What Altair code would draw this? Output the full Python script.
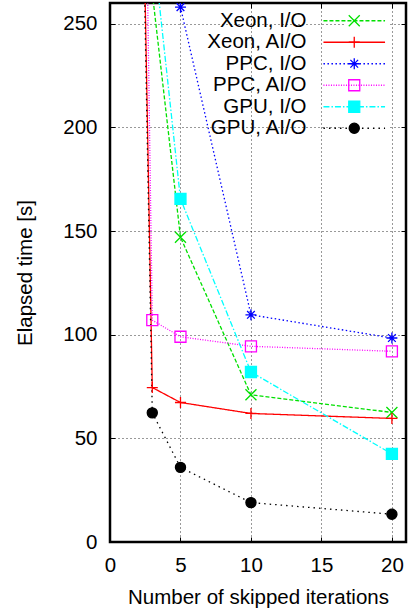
import altair as alt
import pandas as pd

series = ["Xeon, I/O", "Xeon, AI/O", "PPC, I/O", "PPC, AI/O", "GPU, I/O", "GPU, AI/O"]
skipped = [1, 3, 5, 10, 20]
xeon_io = [420, 265, 147, 71, 62.5]
xeon_aio = [815, 74.5, 67.3, 62, 59.6]
ppc_io = [900, 450, 258, 109.6, 98.4]
ppc_aio = [1050, 107, 99, 94.4, 92]
gpu_io = [600, 291, 165.5, 82, 42.5]
gpu_aio = [800, 62.3, 36, 19, 13.4]
values = [xeon_io, xeon_aio, ppc_io, ppc_aio, gpu_io, gpu_aio]

x_ticks = [0, 5, 10, 15, 20]
y_ticks = [0, 50, 100, 150, 200, 250]

colors = ["#00e000", "#ff0000", "#0000ff", "#ff00ff", "#00ffff", "#000000"]
dashes = [[4, 2], [1, 0], [1.5, 2.5], [1, 1.5], [6, 2, 1.5, 2], [1.5, 4]]
shapes = [
    "M-1,-1L1,1M-1,1L1,-1",
    "M-1,0H1M0,-1V1",
    "M-1,0H1M0,-1V1M-0.7,-0.7L0.7,0.7M-0.7,0.7L0.7,-0.7",
    "M-1,-1H1V1H-1Z",
    "M-1,-1H1V1H-1Z",
    "M-0.92,0A0.92,0.92 0 1,0 0.92,0A0.92,0.92 0 1,0 -0.92,0Z",
]
fills = ["transparent", "transparent", "transparent", "transparent", "#00ffff", "#000000"]

# marker keys (distinct strings so the marker legend stays separate from the line legend)
marker_keys = [s + " " for s in series]

rows = []
for name, key, vals in zip(series, marker_keys, values):
    for xv, yv in zip(skipped, vals):
        rows.append({"series": name, "marker": key, "x": xv, "y": yv})
df = pd.DataFrame(rows)

W, H = 296, 539
FONT = "Liberation Sans"
FS = 20.5

xscale = alt.Scale(domain=[0, 21], nice=False, zero=False)
yscale = alt.Scale(domain=[0, 260], nice=False, zero=False)

LEGX, LEGY = 234, 7.5
LOFF = {"expr": "-58"}

leg1 = alt.Legend(
    orient="none", legendX=LEGX, legendY=LEGY, title=None,
    symbolType="M-5.6,0H5.6", symbolSize=121, symbolStrokeWidth=1.3,
    labelFont=FONT, labelFontSize=FS, labelColor="black", labelAlign="right",
    labelOffset=LOFF, labelLimit=400, rowPadding=0.5, padding=0,
    fillColor="white", zindex=1,
)
leg2 = alt.Legend(
    orient="none", legendX=LEGX, legendY=LEGY, title=None,
    symbolSize=121, symbolStrokeWidth=1.3,
    labelFont=FONT, labelFontSize=FS, labelColor="black", labelAlign="right",
    labelOffset=LOFF, labelLimit=400, rowPadding=0.5, padding=0,
    labelOpacity=0, labelExpr="' '", zindex=2,
)

tick_axis = dict(labels=False, domain=False, grid=False, ticks=True, tickSize=5,
                 tickColor="black", tickWidth=1, title=None)

lines = alt.Chart(df).mark_line(clip=True, strokeWidth=1.3).encode(
    x=alt.X("x:Q", scale=xscale, axis=alt.Axis(
        orient="bottom", values=x_ticks, grid=True, gridDash=[1, 3], gridColor="black",
        gridOpacity=0.8, ticks=False, tickSize=0, domain=False,
        labelFont=FONT, labelFontSize=FS, labelColor="black", labelBaseline="alphabetic",
        labelPadding=29.5, labelFlush=False,
        title="Number of skipped iterations", titleFont=FONT, titleFontSize=FS,
        titleFontWeight="normal", titleColor="black", titleBaseline="alphabetic",
        titleX=W / 2, titleY=61.3, titleAlign="center")),
    y=alt.Y("y:Q", scale=yscale, axis=alt.Axis(
        orient="left", values=y_ticks, grid=True, gridDash=[1, 3], gridColor="black",
        gridOpacity=0.8, ticks=False, tickSize=0, domain=False,
        labelFont=FONT, labelFontSize=FS, labelColor="black", labelPadding=13,
        labelFlush=False,
        title="Elapsed time [s]", titleFont=FONT, titleFontSize=FS,
        titleFontWeight="normal", titleColor="black", titleBaseline="alphabetic",
        titleX=-79, titleY=H / 2, titleAlign="center", titleAngle=270)),
    color=alt.Color("series:N", scale=alt.Scale(domain=series, range=colors), legend=leg1),
    strokeDash=alt.StrokeDash("series:N", scale=alt.Scale(domain=series, range=dashes), legend=leg1),
)

points = alt.Chart(df).mark_point(clip=True, strokeWidth=1.3, opacity=1, size=121).encode(
    x=alt.X("x:Q", scale=xscale, axis=alt.Axis(orient="top", offset={"expr": str(-H)}, values=x_ticks, **tick_axis)),
    y=alt.Y("y:Q", scale=yscale, axis=alt.Axis(orient="right", offset={"expr": str(-W)}, values=y_ticks, **tick_axis)),
    stroke=alt.Stroke("marker:N", scale=alt.Scale(domain=marker_keys, range=colors), legend=leg2),
    fill=alt.Fill("marker:N", scale=alt.Scale(domain=marker_keys, range=fills), legend=leg2),
    shape=alt.Shape("marker:N", scale=alt.Scale(domain=marker_keys, range=shapes), legend=leg2),
)

ticks_layer = alt.Chart(df).mark_point(clip=True, opacity=0).encode(
    x=alt.X("x:Q", scale=xscale, axis=alt.Axis(orient="bottom", offset={"expr": str(-H)}, values=x_ticks, **tick_axis)),
    y=alt.Y("y:Q", scale=yscale, axis=alt.Axis(orient="left", offset={"expr": str(-W)}, values=y_ticks, **tick_axis)),
)

chart = alt.layer(lines, points, ticks_layer).resolve_axis(
    x="independent", y="independent"
).properties(
    width=W, height=H,
    autosize=alt.AutoSizeParams(type="none"),
    padding={"left": 110, "top": 3, "right": 3, "bottom": 67},
    background="white",
).configure_view(stroke="black", strokeWidth=2.5)

chart.save("out.html", embed_options={"renderer": "svg", "actions": False})
